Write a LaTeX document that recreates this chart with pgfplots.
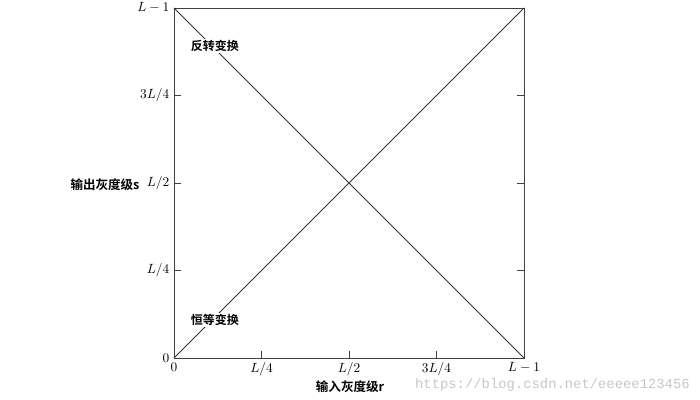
\documentclass[border=0pt]{standalone}
\usepackage{pgfplots}
\pgfplotsset{compat=1.18}
\usepackage{fontspec}
\newfontfamily\cjk{Noto Sans CJK SC}[BoldFont=Noto Sans CJK SC Bold]
\newfontfamily\wm{Liberation Mono}
\begin{document}
\begin{tikzpicture}[x=1pt,y=1pt]
\path[use as bounding box] (0,0) rectangle (525,300);
\begin{axis}[
  at={(130.5pt,31.5pt)}, anchor=south west,
  scale only axis, width=262.5pt, height=262.5pt,
  xmin=0, xmax=1, ymin=0, ymax=1,
  axis line style={black!75, line width=0.7pt},
  xtick={0,0.25,0.5,0.75,1},
  ytick={0,0.25,0.5,0.75,1},
  xticklabels={$0$,$L/4$,$L/2$,$3L/4$,$L-1$},
  yticklabels={$0$,$L/4$,$L/2$,$3L/4$,$L-1$},
  tick align=inside,
  xtick pos=bottom,
  ytick pos=both,
  major tick length=5pt,
  tick style={black!75, line width=0.6pt},
  tick label style={font=\fontsize{9.8}{11}\selectfont},
  xticklabel style={yshift=0pt},
  clip=false,
]
\addplot[black!80, line width=0.6pt] coordinates {(0,0) (1,1)};
\addplot[black!80, line width=0.6pt] coordinates {(0,1) (1,0)};
\node[fill=white, inner sep=1pt, font=\cjk\bfseries\fontsize{9}{10}\selectfont] at (axis cs:0.117,0.891) {反转变换};
\node[fill=white, inner sep=1pt, font=\cjk\bfseries\fontsize{9}{10}\selectfont] at (axis cs:0.117,0.109) {恒等变换};
\end{axis}
\node[font=\cjk\bfseries\fontsize{9.4}{11}\selectfont] at (78.75,161.25) {输出灰度级s};
\node[font=\cjk\bfseries\fontsize{9.4}{11}\selectfont] at (262.5,9.75) {输入灰度级r};
\node[anchor=east, inner sep=0pt, text=black!22, font=\wm\fontsize{10.4}{12}\selectfont] at (517.5,11) {https://blog.csdn.net/eeeee123456};
\end{tikzpicture}
\end{document}
